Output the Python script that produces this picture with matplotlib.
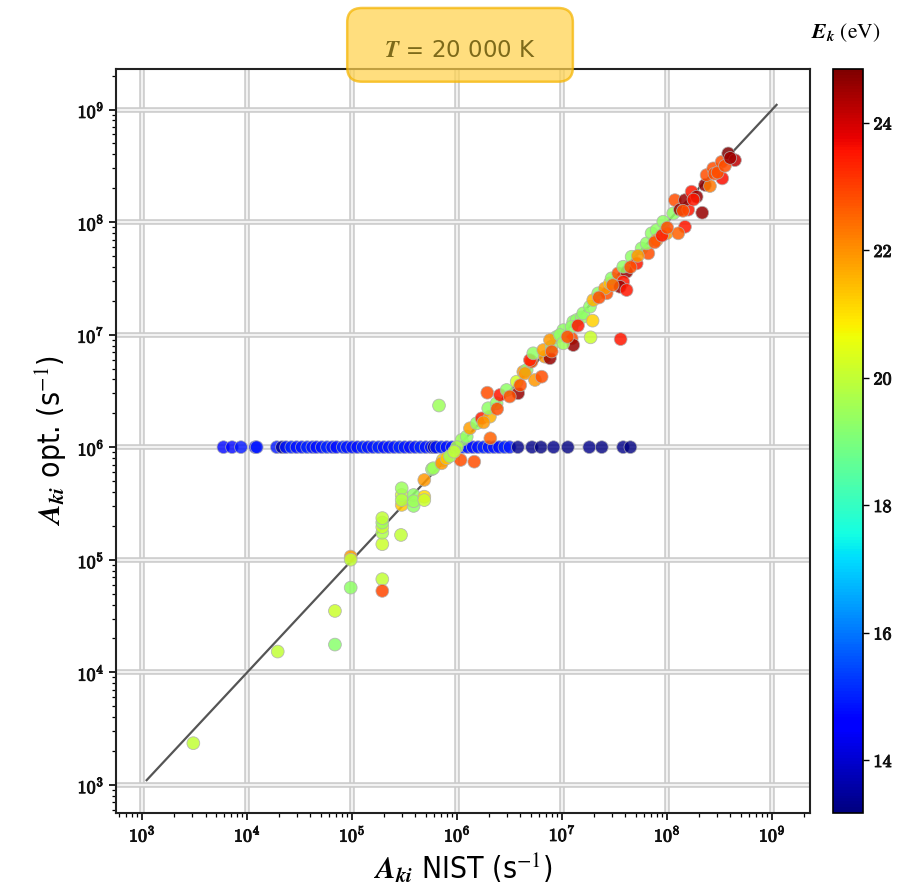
import numpy as np
import matplotlib
matplotlib.use("Agg")
import matplotlib.pyplot as plt
from matplotlib import ticker, patheffects
from matplotlib.patches import FancyBboxPatch
import matplotlib.colors as mcolors

plt.rcParams['mathtext.fontset'] = 'cm'

# ---- data (log10 of the rates) : NIST A_ki, optimised A_ki ; upper level energy E_k (eV) ----
diag_nist_log10 = [3.486, 4.29, 4.835, 4.835, 4.985, 4.985, 4.985, 5.286, 5.286, 5.286,
                   5.286, 5.286, 5.286, 5.286, 5.464, 5.471, 5.471, 5.471, 5.471, 5.584,
                   5.584, 5.584, 5.686, 5.686, 5.686, 5.759, 5.772, 5.862, 5.851, 5.899,
                   6.032, 6.162, 6.315, 5.826, 6.042, 6.09, 5.997, 6.121, 6.185, 6.232,
                   6.311, 6.295, 6.375, 6.286, 6.407, 6.47, 6.58, 6.566, 6.629, 6.661,
                   6.645, 6.74, 6.804, 6.708, 6.692, 6.724, 6.835, 6.883, 6.819, 6.899,
                   6.947, 6.883, 7.09, 7.105, 7.01, 6.978, 7.01, 7.105, 7.137, 7.089,
                   7.185, 7.2, 7.289, 7.27, 7.556, 7.264, 7.295, 7.343, 7.423, 7.407,
                   7.454, 7.47, 7.533, 7.613, 7.581, 7.55, 7.613, 7.581, 7.661, 7.709,
                   7.756, 7.82, 7.804, 7.851, 7.899, 7.9, 7.994, 7.962, 8.057, 8.073,
                   8.121, 8.2, 8.169, 8.232, 8.28, 8.333, 8.169, 8.105, 8.36, 8.407,
                   8.375, 8.438, 8.518, 8.524, 8.581, 8.645, 5.93, 5.97,
                   7.35, 7.48, 7.65, 7.72, 7.88, 7.95, 8.0, 8.15, 8.25, 8.45,
                   8.48, 8.55, 8.6, 6.9, 7.05, 7.15, 6.6, 6.5, 6.38, 6.25]
diag_opt_log10 = [3.37, 4.184, 4.246, 4.545, 4.752, 5.028, 5.0, 4.827, 4.723, 5.138,
                  5.24, 5.29, 5.33, 5.37, 5.22, 5.487, 5.575, 5.635, 5.53, 5.478,
                  5.575, 5.52, 5.709, 5.56, 5.53, 5.804, 5.813, 5.886, 5.857, 5.901,
                  5.886, 5.871, 6.079, 6.37, 6.064, 6.094, 6.0, 6.168, 6.212, 6.256,
                  6.271, 6.346, 6.39, 6.484, 6.464, 6.508, 6.479, 6.582, 6.67, 6.686,
                  6.656, 6.597, 6.626, 6.76, 6.774, 6.834, 6.804, 6.79, 6.863, 6.893,
                  6.98, 6.952, 6.966, 6.907, 7.04, 6.997, 6.923, 7.114, 7.13, 7.07,
                  7.153, 7.189, 7.124, 6.976, 6.96, 7.248, 7.307, 7.367, 7.367, 7.411,
                  7.456, 7.5, 7.544, 7.558, 7.47, 7.425, 7.396, 7.603, 7.692, 7.633,
                  7.766, 7.722, 7.811, 7.9, 7.929, 7.84, 7.9, 8.003, 8.077, 8.195,
                  8.11, 8.11, 8.195, 8.27, 8.225, 8.083, 7.958, 7.9, 8.33, 8.32,
                  8.418, 8.477, 8.535, 8.388, 8.61, 8.55, 5.92, 5.96,
                  7.33, 7.44, 7.6, 7.7, 7.82, 7.88, 7.95, 8.1, 8.2, 8.43,
                  8.44, 8.5, 8.57, 6.85, 6.98, 7.08, 6.55, 6.45, 6.34, 6.22]
diag_ek = [20.0, 20.0, 19.2, 20.1, 19.3, 21.9, 20.0, 20.0, 22.9, 20.1,
           19.7, 20.1, 19.5, 20.0, 20.0, 21.3, 20.2, 19.5, 19.7, 19.3,
           19.3, 19.5, 21.9, 21.1, 20.1, 19.3, 19.5, 21.2, 21.9, 21.3,
           22.8, 22.8, 22.6, 19.5, 19.5, 19.3, 19.7, 21.8, 19.3, 23.4,
           21.6, 19.3, 19.3, 22.8, 23.5, 19.3, 24.6, 20.2, 21.9, 19.3,
           21.9, 21.9, 22.8, 22.8, 23.4, 19.3, 21.9, 24.6, 21.8, 19.3,
           19.3, 21.9, 22.8, 24.6, 19.3, 19.3, 19.5, 19.3, 19.3, 19.3,
           19.3, 19.3, 21.2, 20.1, 23.5, 19.3, 21.6, 19.3, 22.8, 21.9,
           21.3, 19.3, 22.8, 24.6, 23.5, 24.6, 23.5, 19.3, 19.3, 23.5,
           19.3, 22.8, 19.3, 19.3, 19.3, 21.9, 21.9, 19.3, 19.3, 22.8,
           24.6, 23.5, 24.6, 23.5, 24.6, 24.6, 23.5, 22.6, 24.7, 22.3,
           22.8, 22.8, 22.8, 23.6, 24.8, 24.2, 19.5, 20.0,
           22.8, 22.6, 22.8, 21.9, 22.8, 23.5, 22.8, 22.8, 23.5, 22.8,
           22.8, 22.8, 24.5, 22.8, 22.8, 23.5, 22.8, 22.8, 22.8, 21.9]

row_nist = [5.93e3, 7.16e3, 8.71e3, 1.19e4, 1.23e4, 1.91e4, 2.14e4, 2.34e4, 2.63e4, 2.95e4,
            3.31e4, 3.72e4, 4.17e4, 4.57e4, 5.13e4, 5.75e4, 6.46e4, 7.08e4, 8.13e4, 8.91e4,
            1.00e5, 1.12e5, 1.26e5, 1.41e5, 1.58e5, 1.78e5, 2.00e5, 2.24e5, 2.51e5, 2.82e5,
            3.16e5, 3.55e5, 3.98e5, 4.47e5, 5.01e5, 5.62e5, 6.00e5, 6.31e5, 7.08e5, 7.94e5,
            8.91e5, 1.00e6, 1.12e6, 1.26e6, 1.41e6, 1.58e6, 1.78e6, 2.00e6, 2.24e6, 2.51e6,
            2.82e6, 3.16e6, 3.78e6, 5.15e6, 6.27e6, 8.26e6, 1.13e7, 1.81e7, 2.38e7, 3.80e7,
            4.46e7]
row_opt = [1.0e6] * len(row_nist)
row_ek = [14.7, 14.7, 14.9, 14.9, 14.9, 14.9, 13.4, 14.9, 15.0, 14.8,
          14.9, 15.0, 14.9, 14.8, 14.9, 15.0, 14.9, 14.8, 15.0, 14.9,
          14.9, 14.8, 15.0, 14.9, 14.9, 15.0, 14.8, 14.9, 14.9, 15.0,
          14.9, 14.8, 14.9, 15.0, 14.9, 14.9, 13.4, 14.9, 15.0, 14.8,
          14.9, 14.9, 15.0, 14.9, 14.8, 14.9, 15.0, 14.9, 14.9, 14.8,
          15.0, 14.9, 13.3, 13.3, 13.2, 13.3, 13.2, 13.3, 13.2, 13.3,
          13.2]

line_ends = [1.1e3, 1.1e9]
ek_min, ek_max = 13.17, 24.84
cbar_ticks = [14, 16, 18, 20, 22, 24]

diag_nist = np.power(10.0, diag_nist_log10)
diag_opt = np.power(10.0, diag_opt_log10)

fig = plt.figure(figsize=(9.21, 8.88), dpi=100)
ax = fig.add_axes([0.126, 0.0845, 0.7535, 0.8378])
cax = fig.add_axes([0.9045, 0.0845, 0.0326, 0.8378])

norm = mcolors.Normalize(vmin=ek_min, vmax=ek_max)
ax.plot(line_ends, line_ends, color='#555555', lw=1.6, zorder=2)
ax.scatter(row_nist, row_opt, c=row_ek, cmap='jet', norm=norm, s=85, alpha=0.8,
           edgecolors='#b0b0b0', linewidths=0.6, zorder=3)
sc = ax.scatter(diag_nist, diag_opt, c=diag_ek, cmap='jet', norm=norm, s=85, alpha=0.85,
                edgecolors='#b0b0b0', linewidths=0.6, zorder=3)

ax.set_xscale('log')
ax.set_yscale('log')
lo, hi = 10 ** 2.75, 10 ** 9.36
ax.set_xlim(lo, hi)
ax.set_ylim(lo, hi)

bold = [patheffects.withStroke(linewidth=0.7, foreground='#111111')]
fmt = ticker.FuncFormatter(lambda v, p: r'$\mathbf{10^{%d}}$' % round(np.log10(v)))
for axis in (ax.xaxis, ax.yaxis):
    axis.set_major_locator(ticker.LogLocator(base=10, numticks=20))
    axis.set_minor_locator(ticker.LogLocator(base=10, subs=np.arange(2, 10), numticks=20))
    axis.set_major_formatter(fmt)
    axis.set_minor_formatter(ticker.NullFormatter())
ax.tick_params(which='major', direction='out', length=5, width=1.2, labelsize=13,
               top=False, right=False, labelcolor='#111111')
ax.tick_params(which='minor', direction='out', length=3, width=0.9, top=False, right=False)
for lab in ax.get_xticklabels() + ax.get_yticklabels():
    lab.set_path_effects(bold)

ax.grid(True, which='major', color='#f2f2f2', lw=1.6, zorder=0,
        path_effects=[patheffects.withStroke(linewidth=4.0, foreground='#cbcbcb')])
ax.set_axisbelow(True)
for sp in ax.spines.values():
    sp.set_linewidth(1.5)
    sp.set_color('#222222')

ax.set_xlabel(r'$\mathbfit{A_{ki}}$ NIST (s$^{-1}$)', fontsize=21.5,
              fontstretch='condensed', labelpad=4, math_fontfamily='stix')
ax.set_ylabel(r'$\mathbfit{A_{ki}}$ opt. (s$^{-1}$)', fontsize=21.5,
              fontstretch='condensed', labelpad=6, math_fontfamily='stix')

cb = fig.colorbar(sc, cax=cax)
cb.solids.set_alpha(1)
cb.set_ticks(cbar_ticks)
cb.ax.set_yticklabels([r'$\mathbf{%d}$' % t for t in cbar_ticks])
cb.ax.tick_params(labelsize=13, length=4, width=1, labelcolor='#111111')
for lab in cb.ax.get_yticklabels():
    lab.set_path_effects(bold)
cb.outline.set_linewidth(1.2)
fig.text(0.918, 0.963, r'$\mathbfit{E_k}\ \mathrm{(eV)}$', fontsize=15.5,
         ha='center', va='center', math_fontfamily='stix')

box = FancyBboxPatch((0.377, 0.908), 0.245, 0.083, transform=fig.transFigure,
                     boxstyle='round,pad=0,rounding_size=0.016',
                     facecolor='#ffd24d', edgecolor='#f5b400', lw=1.8, alpha=0.72,
                     zorder=10)
fig.patches.append(box)
fig.text(0.4995, 0.943, r'$\mathbfit{T}\ =\ $20 000 K', fontsize=16.5, color='#7d6a1a',
         ha='center', va='center', zorder=11, math_fontfamily='stix')

fig.savefig('out.png', dpi=100, facecolor='white')
